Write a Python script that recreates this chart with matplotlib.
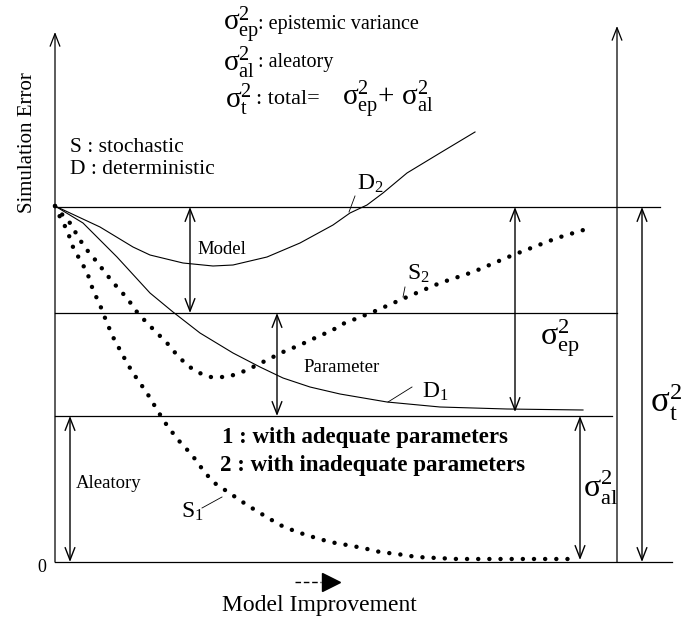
import matplotlib
matplotlib.use("Agg")
import matplotlib.pyplot as plt

plt.rcParams["font.family"] = ["Liberation Serif", "DejaVu Serif"]
plt.rcParams["mathtext.fontset"] = "custom"
plt.rcParams["mathtext.rm"] = "Liberation Serif"
plt.rcParams["mathtext.it"] = "Liberation Serif:italic"
plt.rcParams["mathtext.bf"] = "Liberation Serif:bold"

# error levels (model improvement on x, simulation error on y)
total_level = 355
model_level = 249
aleatory_level = 146

# D2: deterministic, inadequate parameters
d2_x = [0, 45, 78, 95, 128, 158, 178, 212, 245, 278, 295, 312, 328, 352, 385, 420]
d2_y = [356, 335, 315, 307, 299, 296, 297, 305, 319, 337, 349, 357, 369, 389, 409, 430]

# D1: deterministic, adequate parameters
d1_x = [0, 28, 62, 95, 118, 145, 178, 205, 228, 255, 285, 332, 385, 452, 528]
d1_y = [356, 339, 305, 269, 250, 229, 209, 195, 184, 175, 168, 160, 155, 153, 152]

# S2: stochastic, inadequate parameters
s2_x = [0, 3, 15, 25, 32, 42, 52, 62, 72, 82, 92, 102, 112, 122, 132, 142, 155, 172,
        185, 198, 212, 228, 245, 262, 278, 285, 318, 352, 385, 418, 458, 502, 535]
s2_y = [356, 352, 339, 322, 312, 300, 287, 275, 264, 250, 239, 229, 219, 207, 197, 190, 185, 185,
        189, 195, 202, 210, 217, 225, 232, 237, 250, 265, 279, 290, 307, 324, 334]

# S1: stochastic, adequate parameters
s1_x = [0, 5, 12, 18, 25, 32, 38, 45, 52, 58, 65, 72, 78, 85, 92, 104, 113, 125, 137, 148, 158,
        173, 192, 205, 225, 242, 258, 275, 292, 308, 325, 342, 362, 382, 402, 518]
s1_y = [356, 345, 332, 315, 302, 290, 272, 257, 239, 225, 212, 199, 189, 179, 169, 149, 135, 120,
        107, 92, 80, 70, 57, 49, 37, 30, 25, 20, 17, 14, 10, 8, 5, 4, 3, 3]

SIG_EP = r"$\mathrm{\sigma}^2_{\mathrm{ep}}$"
SIG_AL = r"$\mathrm{\sigma}^2_{\mathrm{al}}$"
SIG_T = r"$\mathrm{\sigma}^2_{\mathrm{t}}$"

fig = plt.figure(figsize=(6.81, 6.19), dpi=100)
ax = fig.add_axes([0, 0, 1, 1])
ax.set_xlim(-55, 626)
ax.set_ylim(-57, 562)
ax.axis("off")

K = "black"
thin = 0.9

# horizontal reference levels
ax.plot([0, 617], [0, 0], color=K, lw=thin)
ax.plot([0, 605], [total_level] * 2, color=K, lw=thin)
ax.plot([0, 562], [model_level] * 2, color=K, lw=thin)
ax.plot([0, 557], [aleatory_level] * 2, color=K, lw=thin)

# axes with open arrow heads
axis_arrow = dict(arrowstyle="->, head_length=0.9, head_width=0.35", lw=thin, color=K, shrinkA=0, shrinkB=0)
ax.annotate("", xy=(0, 530), xytext=(0, 0), arrowprops=axis_arrow)
ax.annotate("", xy=(562, 536), xytext=(562, 0), arrowprops=axis_arrow)

# curves
ax.plot(d2_x, d2_y, color=K, lw=0.8)
ax.plot(d1_x, d1_y, color=K, lw=0.8)
dots = dict(color=K, lw=3.2, ls=(0, (0.01, 2.5)), dash_capstyle="round")
ax.plot(s2_x, s2_y, **dots)
ax.plot(s1_x, s1_y, **dots)

# double arrows
dbl = dict(arrowstyle="<->, head_length=0.9, head_width=0.35", lw=1.0, color=K, shrinkA=0, shrinkB=0)
for x, y0, y1 in [(135, total_level, model_level), (222, model_level, aleatory_level),
                  (15, aleatory_level, 0), (460, total_level, aleatory_level + 4),
                  (525, aleatory_level, 2), (587, total_level, 0)]:
    ax.annotate("", xy=(x, y1), xytext=(x, y0), arrowprops=dbl)

# curve labels with leaders
for txt, (tx, ty), (lx0, ly0, lx1, ly1) in [
        (r"$\mathrm{D}_2$", (302, 378), (300, 366, 294, 350)),
        (r"$\mathrm{S}_2$", (352, 288), (350, 275, 348, 265)),
        (r"$\mathrm{D}_1$", (367, 170), (357, 175, 333, 160)),
        (r"$\mathrm{S}_1$", (126, 50), (147, 54, 167, 65))]:
    ax.text(tx, ty, txt, fontsize=17, va="center", ha="left")
    ax.plot([lx0, lx1], [ly0, ly1], color=K, lw=0.6)

# region labels
ax.text(142, 312, "Model", fontsize=13.5, va="center")
ax.text(248, 194, "Parameter", fontsize=13.5, va="center")
ax.text(21, 79, "Aleatory", fontsize=13.5, va="center")

# variance labels
ax.text(485, 224, SIG_EP, fontsize=23, va="center")
ax.text(528, 74, SIG_AL, fontsize=23, va="center")
ax.text(595, 160, SIG_T, fontsize=25, va="center")

# legend-like notes
ax.text(168, 537, SIG_EP, fontsize=21, va="center")
ax.text(203, 537, ": epistemic variance", fontsize=14.5, va="center")
ax.text(168, 499, SIG_AL, fontsize=21, va="center")
ax.text(203, 499, ": aleatory", fontsize=14.5, va="center")
ax.text(170, 462, SIG_T, fontsize=21, va="center")
ax.text(201, 462, ": total=", fontsize=16, va="center")
ax.text(287, 462, SIG_EP + "+ " + SIG_AL, fontsize=21, va="center")

ax.text(15, 415, "S : stochastic", fontsize=15.5, va="center")
ax.text(15, 392, "D : deterministic", fontsize=15.5, va="center")

ax.text(167, 124, "1 : with adequate parameters", fontsize=16.5, fontweight="bold", va="center")
ax.text(165, 97, "2 : with inadequate parameters", fontsize=16.5, fontweight="bold", va="center")

# axis labels
ax.text(-27, 419, "Simulation Error", fontsize=15, rotation=90, ha="center", va="center")
ax.text(-13, -5, "0", fontsize=13, ha="center", va="center")
ax.plot([240, 266], [-20, -20], color=K, lw=1.0, ls=(0, (4, 2)))
ax.plot([276], [-20], marker=">", ms=13, color=K)
ax.text(264, -43, "Model Improvement", fontsize=17, ha="center", va="center")

fig.savefig("out.png", dpi=100)
